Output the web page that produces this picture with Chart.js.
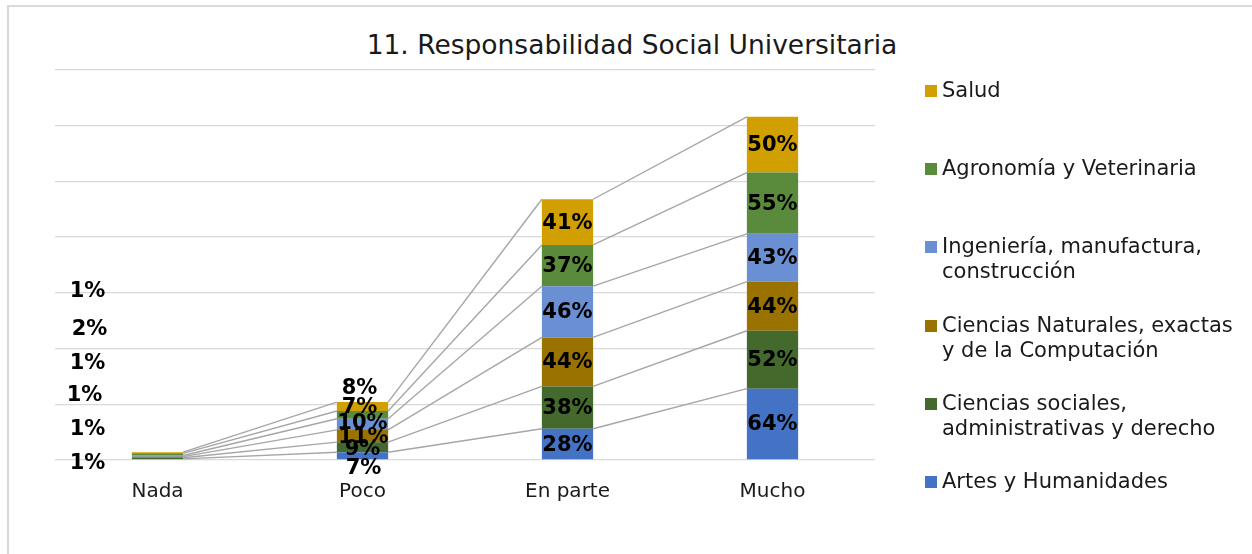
<!DOCTYPE html>
<html>
<head>
<meta charset="utf-8">
<script src="https://cdn.jsdelivr.net/npm/chart.js@4.4.1/dist/chart.umd.min.js"></script>
<style>
    html, body { margin: 0; background: #fff; font-family: 'DejaVu Sans', Verdana, sans-serif; overflow: hidden; }
    #wrap { position: relative; width: 1252px; height: 554px; overflow: hidden; }
    #frame { position: absolute; left: 7px; top: 5px; width: 1400px; height: 700px; border-left: 2px solid #d9d9d9; border-top: 2px solid #d9d9d9; }
    #title { position: absolute; left: 0; width: 1264px; top: 29px; text-align: center; font-size: 26.5px; line-height: 32px; color: #1a1a1a; }
    #myChart { position: absolute; left: 0; top: 0; }
    #legend { position: absolute; left: 925px; top: 0; }
    .item { position: absolute; left: 0; display: flex; white-space: nowrap; font-size: 21px; line-height: 25px; color: #1a1a1a; }
    .box { width: 12px; height: 12px; margin-top: 7px; margin-right: 5px; flex: none; }
</style>
</head>
<body>
<div id="wrap">
    <div id="frame"></div>
    <div id="title">11. Responsabilidad Social Universitaria</div>
    <canvas id="myChart" width="1252" height="554"></canvas>
    <div id="legend"></div>
</div>
<script>
const categorias = ['Nada', 'Poco', 'En parte', 'Mucho']

const artes = [1, 7, 28, 64]
const sociales = [1, 9, 38, 52]
const naturales = [1, 11, 44, 44]
const ingenieria = [1, 10, 46, 43]
const agronomia = [2, 7, 37, 55]
const salud = [1, 8, 41, 50]

const nombres = [
    'Artes y Humanidades',
    ['Ciencias sociales,', 'administrativas y derecho'],
    ['Ciencias Naturales, exactas', 'y de la Computación'],
    ['Ingeniería, manufactura,', 'construcción'],
    'Agronomía y Veterinaria',
    'Salud'
]
const colores = ['#4472c4', '#436a2c', '#9a7200', '#6a8fd3', '#5a8a3c', '#d29f00']

// label nudges per category [dx, dy] for each series (Excel moved the small ones)
const desplazamientos = [
    [[-70, 3], [-70, -30], [-73, -63], [-70, -94], [-68, -126], [-70, -162]],
    [[1, 12], [0, 1], [1, 1], [0, -2], [-3, -8], [-3, -19]],
    [[0, 0], [0, 0], [0, 0], [0, 0], [0, 0], [0, 0]],
    [[0, 0], [0, 0], [0, 0], [0, 0], [0, 0], [0, 0]]
]

const seriesLines = {
    id: 'seriesLines',
    afterDatasetsDraw(chart) {
        const ctx = chart.ctx
        ctx.save()
        ctx.strokeStyle = '#a6a6a6'
        ctx.lineWidth = 1.4
        chart.data.datasets.forEach((ds, i) => {
            const bars = chart.getDatasetMeta(i).data
            for (let j = 0; j < bars.length - 1; j++) {
                const a = bars[j], b = bars[j + 1]
                ctx.beginPath()
                ctx.moveTo(a.x + a.width / 2, a.y)
                ctx.lineTo(b.x - b.width / 2, b.y)
                ctx.stroke()
            }
        })
        // labels
        ctx.font = 'bold 21px "DejaVu Sans"'
        ctx.fillStyle = '#000'
        ctx.textAlign = 'center'
        ctx.textBaseline = 'middle'
        chart.data.datasets.forEach((ds, i) => {
            chart.getDatasetMeta(i).data.forEach((bar, j) => {
                const off = desplazamientos[j][i]
                ctx.fillText(ds.data[j] + '%', bar.x + off[0], (bar.y + bar.base) / 2 + off[1] + 1)
            })
        })
        ctx.restore()
    }
}

const series = [artes, sociales, naturales, ingenieria, agronomia, salud]

const ctx = document.getElementById('myChart').getContext('2d')
const myChart = new Chart(ctx, {
    type: 'bar',
    data: {
        labels: categorias,
        datasets: series.map((s, i) => ({
            label: Array.isArray(nombres[i]) ? nombres[i].join(' ') : nombres[i],
            data: s,
            backgroundColor: colores[i],
            borderWidth: 0,
            barPercentage: 1,
            categoryPercentage: 0.25
        }))
    },
    options: {
        responsive: false,
        animation: false,
        layout: { padding: { left: 55, right: 377, top: 70, bottom: 0 } },
        plugins: {
            legend: { display: false },
            title: { display: false },
            tooltip: { enabled: false }
        },
        scales: {
            x: {
                stacked: true,
                grid: { display: false, drawTicks: false },
                border: { display: false },
                ticks: {
                    padding: 20,
                    color: '#1a1a1a',
                    font: { family: 'DejaVu Sans', size: 20 }
                },
                afterFit: (scale) => { scale.height = 94 }
            },
            y: {
                stacked: true,
                min: 0,
                max: 350,
                grid: { color: '#d9d9d9', lineWidth: 1.3, drawTicks: false },
                border: { display: false },
                ticks: { display: false, stepSize: 50 },
                afterFit: (scale) => { scale.width = 0 }
            }
        }
    },
    plugins: [seriesLines]
})

// legend, reversed like Excel
const legend = document.querySelector('#legend')
for (let k = series.length - 1; k >= 0; k--) {
    const pos = series.length - 1 - k
    let item = document.createElement('div')
    item.className = 'item'
    item.style.top = (90 + pos * 78.2 - 12) + 'px'
    let box = document.createElement('div')
    box.className = 'box'
    box.style.background = colores[k]
    let txt = document.createElement('div')
    txt.innerHTML = Array.isArray(nombres[k]) ? nombres[k].join('<br>') : nombres[k]
    item.append(box, txt)
    legend.append(item)
}
</script>
</body>
</html>
